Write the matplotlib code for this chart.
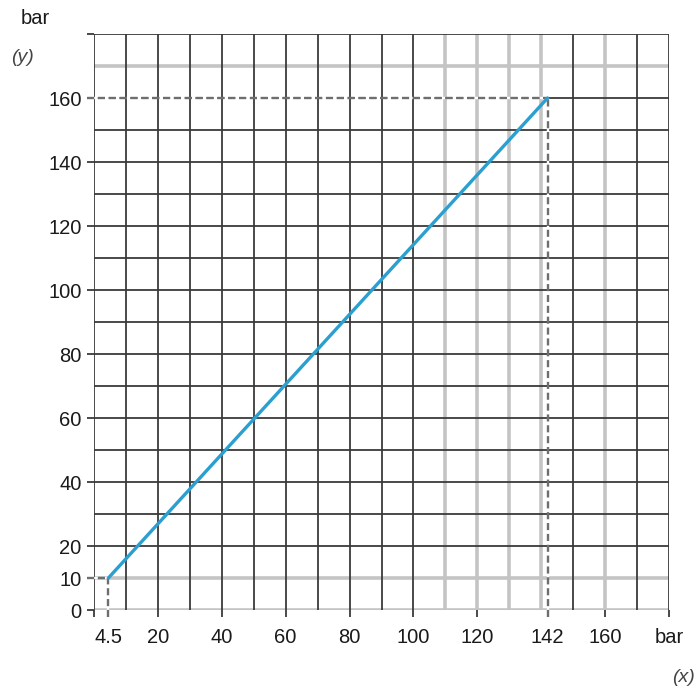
import matplotlib
matplotlib.use('Agg')
import matplotlib.pyplot as plt
import numpy as np

plt.rcParams['font.family'] = ['Liberation Sans', 'DejaVu Sans']

# data: straight line from (4.5, 10) to (142, 160)
line_x = [4.5, 142]
line_y = [10, 160]

x_ticks = [0, 4.5, 20, 40, 60, 80, 100, 120, 142, 160, 180]
x_labels = ['', '4.5', '20', '40', '60', '80', '100', '120', '142', '160', 'bar']
y_ticks = [0, 10, 20, 40, 60, 80, 100, 120, 140, 160, 180]
y_labels = ['0', '10', '20', '40', '60', '80', '100', '120', '140', '160', '']

gray_x = [110, 120, 130, 140, 160]
gray_y = [0, 10, 170]

dark = '#3a3a3a'
light = '#c4c4c4'
blue = '#2a9fd0'
dash_col = '#6e6e6e'

fig = plt.figure(figsize=(7, 7), dpi=100)
ax = fig.add_axes([94/700, 90/700, 575/700, 576/700])
ax.set_xlim(0, 180)
ax.set_ylim(0, 180)
for s in ax.spines.values():
    s.set_visible(False)

# grid
for v in np.arange(0, 181, 10):
    if v in gray_x:
        ax.axvline(v, color=light, lw=2.6, zorder=1)
    else:
        ax.axvline(v, color=dark, lw=1.3, zorder=2)
for v in np.arange(0, 181, 10):
    if v in gray_y:
        ax.axhline(v, color=light, lw=2.6, zorder=1)
    else:
        ax.axhline(v, color=dark, lw=1.3, zorder=2)

# dashed guides (white gaps break the grid line underneath)
ext = -2.3
for xv, yv in zip(line_x, line_y):
    ax.plot([ext, xv], [yv, yv], ls=(0, (3, 1.6)), color=dash_col, lw=1.7,
            gapcolor='white', clip_on=False, zorder=3)
    ax.plot([xv, xv], [ext, yv], ls=(0, (3, 1.6)), color=dash_col, lw=1.7,
            gapcolor='white', clip_on=False, zorder=3)

ax.plot(line_x, line_y, color=blue, lw=2.4, solid_capstyle='round', zorder=4)

ax.set_xticks(x_ticks)
ax.set_xticklabels(x_labels)
ax.set_yticks(y_ticks)
ax.set_yticklabels(y_labels)
ax.tick_params(axis='both', length=5, width=1.3, color=dark, labelsize=14.5,
               labelcolor='#1a1a1a')
ax.tick_params(axis='x', pad=8)
ax.tick_params(axis='y', pad=4)
# hide solid ticks where dashed guides run
for i, t in enumerate(ax.xaxis.get_major_ticks()):
    if x_ticks[i] in line_x:
        t.tick1line.set_visible(False)
for i, t in enumerate(ax.yaxis.get_major_ticks()):
    if y_ticks[i] in line_y:
        t.tick1line.set_visible(False)

fig.text(35/700, 1 - 18/700, 'bar', fontsize=14.5, ha='center', va='center',
         color='#1a1a1a')
fig.text(22/700, 1 - 58/700, '(y)', fontsize=14, ha='center', va='center',
         style='italic', color='#444444')
fig.text(683/700, 1 - 677/700, '(x)', fontsize=14, ha='center', va='center',
         style='italic', color='#444444')

fig.savefig('out.png', dpi=100)
